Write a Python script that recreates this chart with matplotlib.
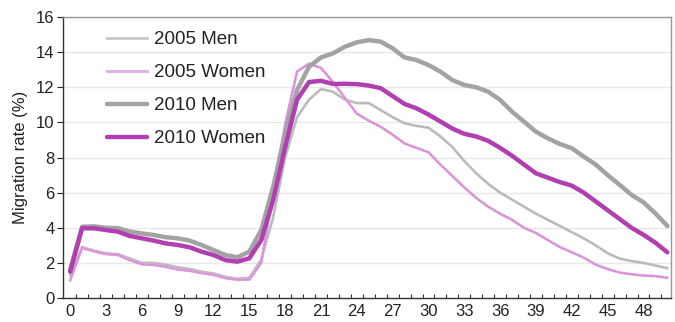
import matplotlib
matplotlib.use("Agg")
import matplotlib.pyplot as plt
import numpy as np

plt.rcParams['font.family'] = ['Liberation Sans', 'DejaVu Sans']

ages = list(range(0, 51))

men_2005 = [1.3, 2.9, 2.7, 2.55, 2.5, 2.25, 2.0, 2.0, 1.9, 1.75, 1.65, 1.5, 1.4, 1.2, 1.1, 1.15,
            2.2, 4.6, 8.0, 10.3, 11.3, 11.9, 11.75, 11.3, 11.1, 11.1, 10.7, 10.3, 9.95, 9.8, 9.7,
            9.2, 8.6, 7.8, 7.1, 6.5, 6.0, 5.6, 5.2, 4.8, 4.45, 4.1, 3.75, 3.4, 3.0, 2.55, 2.25,
            2.1, 2.0, 1.85, 1.7]
women_2005 = [1.0, 2.85, 2.65, 2.5, 2.45, 2.15, 1.92, 1.88, 1.78, 1.62, 1.55, 1.42, 1.32, 1.13, 1.04, 1.05,
              2.0, 6.0, 9.9, 12.9, 13.35, 13.1, 12.3, 11.4, 10.5, 10.1, 9.75, 9.3, 8.8, 8.55, 8.3,
              7.6, 6.95, 6.3, 5.7, 5.2, 4.8, 4.45, 4.0, 3.7, 3.3, 2.9, 2.6, 2.3, 1.9, 1.65, 1.45,
              1.35, 1.28, 1.25, 1.15]
men_2010 = [1.6, 4.06, 4.08, 4.0, 3.98, 3.78, 3.68, 3.59, 3.46, 3.4, 3.27, 3.02, 2.73, 2.45, 2.32, 2.64,
            3.87, 6.34, 9.38, 11.85, 13.17, 13.7, 13.93, 14.31, 14.56, 14.69, 14.6, 14.22, 13.7, 13.55, 13.27,
            12.89, 12.41, 12.13, 12.0, 11.75, 11.28, 10.61, 10.04, 9.47, 9.09, 8.77, 8.53, 8.05, 7.6, 7.0, 6.45,
            5.87, 5.45, 4.82, 4.1]
women_2010 = [1.5, 3.97, 3.97, 3.87, 3.78, 3.53, 3.4, 3.27, 3.11, 3.02, 2.89, 2.64, 2.45, 2.16, 2.07, 2.26,
              3.3, 5.58, 8.6, 11.3, 12.3, 12.37, 12.19, 12.2, 12.18, 12.1, 11.95, 11.5, 11.05, 10.8, 10.45,
              10.05, 9.65, 9.35, 9.2, 8.95, 8.55, 8.1, 7.6, 7.1, 6.85, 6.6, 6.4, 6.0, 5.5, 5.0, 4.5,
              4.0, 3.6, 3.15, 2.6]

series_labels = ["2005 Men", "2005 Women", "2010 Men", "2010 Women"]
y_ticks = list(range(0, 17, 2))
x_ticks = list(range(0, 49, 3))

fig = plt.figure(figsize=(6.75, 3.22), dpi=100)
ax = fig.add_axes([0.0933, 0.0745, 0.9007, 0.8725])

ax.set_xlim(-0.6, 50.3)
ax.set_ylim(0, 16)

for y in y_ticks[1:]:
    ax.axhline(y, color="#e8e8e8", lw=1.0, zorder=0)

l1, = ax.plot(ages, men_2005, color="#c8c8c8", lw=2.0, zorder=2)
ax.plot(ages, men_2005, color="#a8a8a8", lw=1.1, ls=(0, (0.8, 0.8)), zorder=2)
l2, = ax.plot(ages, women_2005, color="#e4aae4", lw=2.0, zorder=2)
ax.plot(ages, women_2005, color="#cc77cc", lw=1.1, ls=(0, (0.8, 0.8)), zorder=2)
l3, = ax.plot(ages, men_2010, color="#a3a3a3", lw=3.2, zorder=3, solid_capstyle="round")
l4, = ax.plot(ages, women_2010, color="#b13fb1", lw=3.2, zorder=4, solid_capstyle="round")

leg = ax.legend([l1, l2, l3, l4], series_labels, loc="upper left",
                bbox_to_anchor=(0.045, 1.01), frameon=False, fontsize=13.5,
                handlelength=2.1, handletextpad=0.4, labelspacing=0.85)
for t in leg.get_texts():
    t.set_color("#222222")

ax.set_yticks(y_ticks)
ax.set_yticklabels([str(v) for v in y_ticks])
ax.set_xticks(x_ticks)
ax.set_xticklabels([str(v) for v in x_ticks])
ax.set_xticks(np.arange(0.5, 50, 1.0), minor=True)
ax.tick_params(axis="x", which="major", length=0, labelsize=12, pad=4, colors="#222222")
ax.tick_params(axis="x", which="minor", direction="in", length=3, width=0.8, color="#333333")
ax.tick_params(axis="y", which="major", direction="out", length=4, width=0.8, labelsize=12, colors="#222222", pad=2)

for s in ["left", "bottom"]:
    ax.spines[s].set_color("#333333")
    ax.spines[s].set_linewidth(1.0)
for s in ["top", "right"]:
    ax.spines[s].set_color("#999999")
    ax.spines[s].set_linewidth(1.0)

ax.set_ylabel("Migration rate (%)", fontsize=12, color="#222222", labelpad=6)

fig.savefig("out.png", dpi=100)
